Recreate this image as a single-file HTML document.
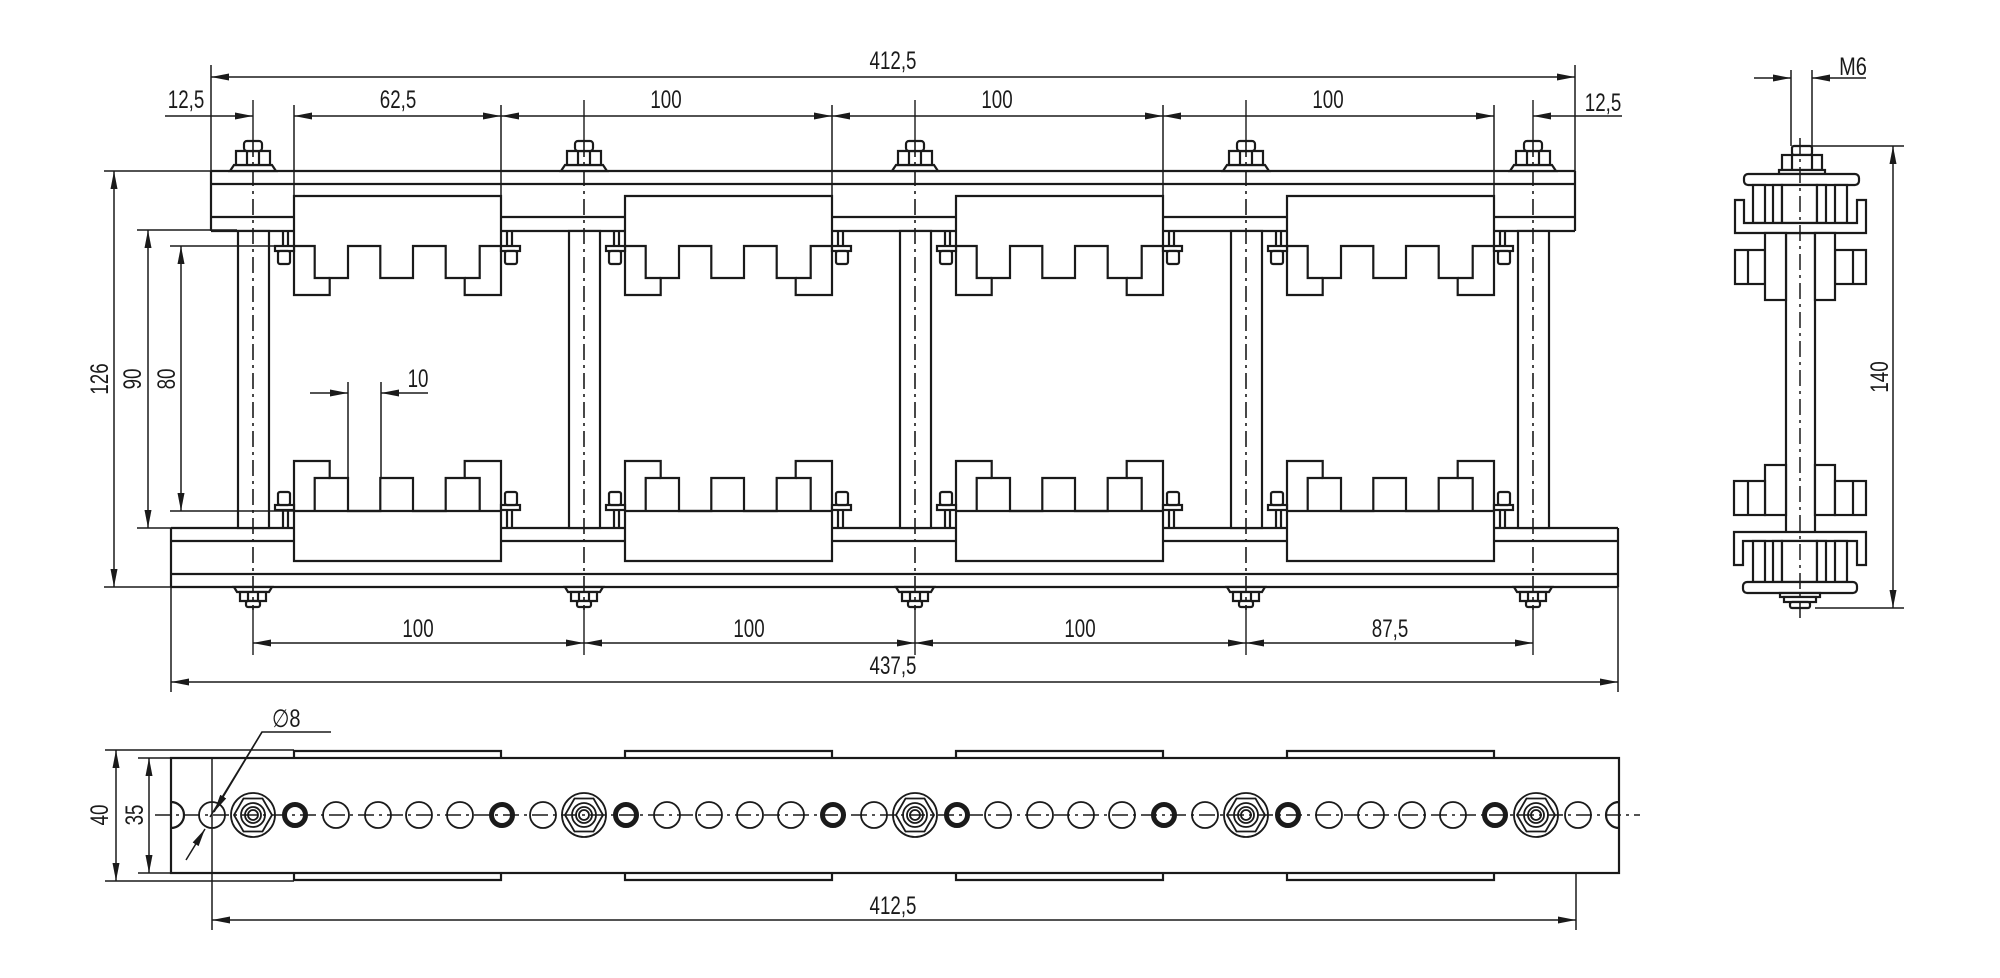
<!DOCTYPE html>
<html><head><meta charset="utf-8"><style>
html,body{margin:0;padding:0;background:#fff;}
svg{display:block}
text{font-family:"Liberation Sans",sans-serif;font-size:25px;fill:#1a1a1a}
</style></head><body>
<svg width="2000" height="978" viewBox="0 0 2000 978" xmlns="http://www.w3.org/2000/svg">
<defs>
<marker id="a" markerUnits="userSpaceOnUse" markerWidth="20" markerHeight="10" refX="18" refY="4" orient="auto-start-reverse"><path d="M0,0.5L18,4L0,7.5Z" fill="#1a1a1a"/></marker>
<g id="tb" fill="#fff">
<path d="M0,196H207V295H170.7V278H151.7V246H119V278H86.3V246H54V278H35.7V295H0Z"/>
<path fill="none" d="M0,246H20.7V278H35.7M207,246H185.7V278H170.7"/>
<path d="M-11,231V246M-6,231V246M213,231V246M218,231V246"/>
<rect x="-19" y="246" width="19" height="5"/><rect x="-16" y="251" width="12" height="13" rx="2"/>
<rect x="207" y="246" width="19" height="5"/><rect x="211" y="251" width="12" height="13" rx="2"/>
</g>
<g id="bb" fill="#fff">
<path d="M0,561H207V461H170.7V478H151.7V511H119V478H86.3V511H54V478H35.7V461H0Z"/>
<path fill="none" d="M0,511H207M20.7,511V478H35.7M185.7,511V478H170.7"/>
<path d="M-11,510V528M-6,510V528M213,510V528M218,510V528"/>
<rect x="-19" y="505" width="19" height="5"/><rect x="-16" y="492" width="12" height="13" rx="2"/>
<rect x="207" y="505" width="19" height="5"/><rect x="211" y="492" width="12" height="13" rx="2"/>
</g>
<g id="bolt" fill="#fff">
<rect x="-15" y="231" width="31" height="297"/>
<path d="M-23,171L-19,165H19L23,171Z"/>
<path d="M-17,165V151H17V165Z"/><path fill="none" d="M-6,151V165M6,151V165"/>
<rect x="-9" y="141" width="18" height="10" rx="3"/>
<path d="M-19,587L-16,592H16L19,587Z"/>
<path d="M-13,592V601H13V592Z"/><path fill="none" d="M-5,592V601M5,592V601"/>
<rect x="-7" y="601" width="14" height="6" rx="2"/>
<path fill="none" stroke-dasharray="16,5,3,5" stroke-width="1.6" d="M0,141V610"/>
<path fill="none" stroke-width="1.4" d="M0,100V141M0,606V655"/>
</g>
<g id="ros" fill="none">
<circle r="22"/><polygon points="19,0 9.5,16.5 -9.5,16.5 -19,0 -9.5,-16.5 9.5,-16.5"/>
<circle r="12"/><circle r="8"/><circle r="5"/>
</g>
</defs>

<g stroke="#1a1a1a" stroke-width="2.2" fill="none">
<!-- ===== TOP VIEW ===== -->
<!-- top rail -->
<path d="M211,171H1575M211,184H1575M211,171V231M1575,171V231"/>
<path d="M211,217H294M501,217H625M832,217H956M1163,217H1287M1494,217H1575"/>
<path d="M211,231H294M501,231H625M832,231H956M1163,231H1287M1494,231H1575"/>
<!-- bottom rail -->
<path d="M171,528H294M501,528H625M832,528H956M1163,528H1287M1494,528H1618"/>
<path d="M171,541H294M501,541H625M832,541H956M1163,541H1287M1494,541H1618"/>
<path d="M171,574H1618M171,587H1618M171,528V587M1618,528V587"/>
<use href="#bolt" x="253"/><use href="#bolt" x="584"/><use href="#bolt" x="915"/><use href="#bolt" x="1246"/><use href="#bolt" x="1533"/>
<use href="#tb" x="294"/><use href="#tb" x="625"/><use href="#tb" x="956"/><use href="#tb" x="1287"/>
<use href="#bb" x="294"/><use href="#bb" x="625"/><use href="#bb" x="956"/><use href="#bb" x="1287"/>

<!-- dimension lines -->
<g stroke-width="1.5">
<path d="M211,65V171M1575,65V171"/>
<path d="M211,77H1575" marker-start="url(#a)" marker-end="url(#a)"/>
<path d="M294,105V196M501,105V196M832,105V196M1163,105V196M1494,105V196"/>
<path d="M165,116H253" marker-end="url(#a)"/>
<path d="M294,116H501" marker-start="url(#a)" marker-end="url(#a)"/>
<path d="M501,116H832" marker-start="url(#a)" marker-end="url(#a)"/>
<path d="M832,116H1163" marker-start="url(#a)" marker-end="url(#a)"/>
<path d="M1163,116H1494" marker-start="url(#a)" marker-end="url(#a)"/>
<path d="M1622,116H1533" marker-end="url(#a)"/>
<!-- left verticals -->
<path d="M104,171H211M137,230H237M170,246H294M170,511H294M137,528H237M104,587H171"/>
<path d="M114,171V587" marker-start="url(#a)" marker-end="url(#a)"/>
<path d="M148,230V528" marker-start="url(#a)" marker-end="url(#a)"/>
<path d="M181,246V511" marker-start="url(#a)" marker-end="url(#a)"/>
<!-- 10 -->
<path d="M348,382V478M381,382V478"/>
<path d="M310,393H348" marker-end="url(#a)"/>
<path d="M428,393H381" marker-end="url(#a)"/>
<!-- bottom -->
<path d="M253,643H584" marker-start="url(#a)" marker-end="url(#a)"/>
<path d="M584,643H915" marker-start="url(#a)" marker-end="url(#a)"/>
<path d="M915,643H1246" marker-start="url(#a)" marker-end="url(#a)"/>
<path d="M1246,643H1533" marker-start="url(#a)" marker-end="url(#a)"/>
<path d="M171,587V692M1618,587V692"/>
<path d="M171,682H1618" marker-start="url(#a)" marker-end="url(#a)"/>
</g>

<!-- ===== PLAN VIEW ===== -->
<rect x="171" y="758" width="1448" height="115"/>
<path d="M294,758V751H501V758M625,758V751H832V758M956,758V751H1163V758M1287,758V751H1494V758"/>
<path d="M294,873V880H501V873M625,873V880H832V873M956,873V880H1163V873M1287,873V880H1494V873"/>
<g stroke-width="1.5">
<path d="M105,750H294M105,881H294M138,758H171M138,873H171"/>
<path d="M116,750V881" marker-start="url(#a)" marker-end="url(#a)"/>
<path d="M149,758V873" marker-start="url(#a)" marker-end="url(#a)"/>
<path d="M212,758V930M1576,873V930"/>
<path d="M212,920H1576" marker-start="url(#a)" marker-end="url(#a)"/>
<path stroke-dasharray="16,5,3,5" stroke-width="1.4" d="M155,815H1640"/>
<!-- Ø8 leader -->
<path d="M331,732H262L214,812" marker-end="url(#a)"/>
<path d="M186,860L205,829" marker-end="url(#a)"/>
<path d="M210,817L262,732"/>
</g>
<!-- holes -->
<path d="M171,802A13,13 0 0 1 171,828M1619,802A13,13 0 0 0 1619,828"/>
<g stroke-width="1.8">
<circle cx="212" cy="815" r="13"/>
<circle cx="336" cy="815" r="13"/><circle cx="378" cy="815" r="13"/><circle cx="419" cy="815" r="13"/><circle cx="460" cy="815" r="13"/>
<circle cx="543" cy="815" r="13"/>
<circle cx="667" cy="815" r="13"/><circle cx="709" cy="815" r="13"/><circle cx="750" cy="815" r="13"/><circle cx="791" cy="815" r="13"/>
<circle cx="874" cy="815" r="13"/>
<circle cx="998" cy="815" r="13"/><circle cx="1040" cy="815" r="13"/><circle cx="1081" cy="815" r="13"/><circle cx="1122" cy="815" r="13"/>
<circle cx="1205" cy="815" r="13"/>
<circle cx="1329" cy="815" r="13"/><circle cx="1371" cy="815" r="13"/><circle cx="1412" cy="815" r="13"/><circle cx="1453" cy="815" r="13"/>
<circle cx="1578" cy="815" r="13"/>
</g>
<g stroke-width="5">
<circle cx="295" cy="815" r="10.5"/><circle cx="502" cy="815" r="10.5"/><circle cx="626" cy="815" r="10.5"/><circle cx="833" cy="815" r="10.5"/>
<circle cx="957" cy="815" r="10.5"/><circle cx="1164" cy="815" r="10.5"/><circle cx="1288" cy="815" r="10.5"/><circle cx="1495" cy="815" r="10.5"/>
</g>
<g stroke-width="1.8">
<use href="#ros" x="253" y="815"/><use href="#ros" x="584" y="815"/><use href="#ros" x="915" y="815"/><use href="#ros" x="1246" y="815"/><use href="#ros" x="1536" y="815"/>
</g>

<!-- ===== SIDE VIEW ===== -->
<g fill="#fff">
<rect x="1786" y="233" width="29" height="300"/>
<rect x="1792" y="146" width="20" height="9" rx="2"/>
<rect x="1782" y="155" width="40" height="15"/>
<rect x="1779" y="170" width="46" height="4"/>
<rect x="1744" y="174" width="115" height="11" rx="4"/>
<rect x="1753" y="185" width="12" height="38"/><rect x="1773" y="185" width="9" height="38"/><rect x="1782" y="185" width="35" height="38"/><rect x="1817" y="185" width="9" height="38"/><rect x="1835" y="185" width="12" height="38"/>
<path d="M1735,200H1744V223H1857V200H1866V233H1735Z"/>
<rect x="1735" y="250" width="30" height="34"/><rect x="1835" y="250" width="31" height="34"/>
<rect x="1765" y="233" width="21" height="67"/><rect x="1815" y="233" width="20" height="67"/>
<rect x="1765" y="465" width="21" height="50"/><rect x="1815" y="465" width="20" height="50"/>
<rect x="1734" y="481" width="31" height="34"/><rect x="1835" y="481" width="31" height="34"/>
<path d="M1734,565H1743V541H1857V565H1866V532H1734Z"/>
<rect x="1753" y="541" width="12" height="41"/><rect x="1773" y="541" width="9" height="41"/><rect x="1782" y="541" width="35" height="41"/><rect x="1817" y="541" width="9" height="41"/><rect x="1835" y="541" width="12" height="41"/>
<rect x="1743" y="582" width="114" height="11" rx="4"/>
<rect x="1780" y="593" width="40" height="4"/><rect x="1784" y="597" width="32" height="5"/><rect x="1790" y="602" width="20" height="6" rx="2"/>
</g>
<path d="M1748,250V284M1853,250V284M1748,481V515M1853,481V515M1792,155V170M1812,155V170"/>
<path stroke-width="1.5" stroke-dasharray="16,5,3,5" d="M1800,138V620"/>
<g stroke-width="1.5">
<path d="M1791,70V146M1812,70V146"/>
<path d="M1754,78H1791" marker-end="url(#a)"/>
<path d="M1866,78H1812" marker-end="url(#a)"/>
<path d="M1812,146H1904M1815,608H1904"/>
<path d="M1893,146V608" marker-start="url(#a)" marker-end="url(#a)"/>
</g>
</g>

<!-- ===== TEXT ===== -->
<g text-anchor="middle">
<text transform="translate(893,69) scale(0.75,1)">412,5</text>
<text transform="translate(186,108) scale(0.75,1)">12,5</text>
<text transform="translate(398,108) scale(0.75,1)">62,5</text>
<text transform="translate(666,108) scale(0.75,1)">100</text>
<text transform="translate(997,108) scale(0.75,1)">100</text>
<text transform="translate(1328,108) scale(0.75,1)">100</text>
<text transform="translate(1603,111) scale(0.75,1)">12,5</text>
<text transform="translate(418,387) scale(0.75,1)">10</text>
<text transform="translate(418,637) scale(0.75,1)">100</text>
<text transform="translate(749,637) scale(0.75,1)">100</text>
<text transform="translate(1080,637) scale(0.75,1)">100</text>
<text transform="translate(1390,637) scale(0.75,1)">87,5</text>
<text transform="translate(893,674) scale(0.75,1)">437,5</text>
<text transform="translate(893,914) scale(0.75,1)">412,5</text>
<text transform="translate(108,379) rotate(-90) scale(0.75,1)">126</text>
<text transform="translate(141,379) rotate(-90) scale(0.75,1)">90</text>
<text transform="translate(175,379) rotate(-90) scale(0.75,1)">80</text>
<text transform="translate(108,815) rotate(-90) scale(0.75,1)">40</text>
<text transform="translate(143,815) rotate(-90) scale(0.75,1)">35</text>
<text transform="translate(1888,377) rotate(-90) scale(0.75,1)">140</text>
<text transform="translate(1853,75) scale(0.8,1)">M6</text>
</g>
<text transform="translate(272,727) scale(0.8,1)">∅8</text>
</svg>
</body></html>
